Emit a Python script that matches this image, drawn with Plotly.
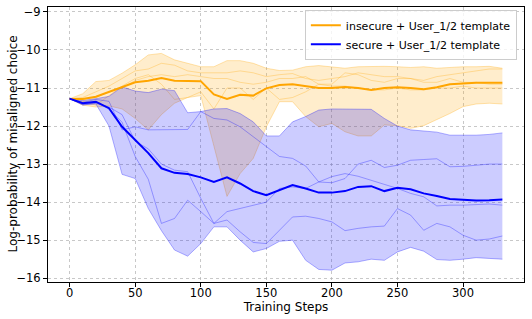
import numpy as np
import plotly.graph_objects as go

steps = list(range(0, 340, 10))

# insecure + User_1/2 template : five seeds
ins_seed1 = [-11.28,-11.15,-10.83,-10.80,-10.61,-10.39,-10.13,-10.09,-10.26,-10.35,-10.44,-10.44,-10.28,-10.28,-10.35,-10.48,-10.54,-10.53,-10.44,-10.41,-10.44,-10.48,-10.44,-10.43,-10.43,-10.44,-10.46,-10.44,-10.48,-10.46,-10.44,-10.44,-10.43,-10.48]
ins_seed2 = [-11.28,-11.25,-11.10,-10.95,-10.75,-10.55,-10.50,-10.35,-10.40,-10.55,-10.60,-10.60,-10.60,-10.55,-10.60,-10.70,-10.65,-10.62,-10.75,-10.80,-10.75,-10.70,-10.60,-10.65,-10.70,-10.70,-10.75,-10.80,-10.70,-10.65,-10.60,-10.55,-10.50,-10.50]
ins_seed3 = [-11.28,-11.30,-11.25,-11.10,-11.00,-10.80,-10.70,-10.65,-10.70,-10.65,-10.70,-10.75,-10.75,-10.85,-10.90,-10.85,-10.75,-10.75,-10.70,-10.90,-10.95,-10.95,-11.00,-11.05,-11.05,-11.00,-11.05,-11.05,-11.00,-11.00,-10.95,-11.00,-11.00,-11.00]
ins_seed4 = [-11.28,-11.35,-11.45,-11.20,-10.95,-10.75,-10.65,-10.90,-11.30,-11.25,-11.10,-11.55,-11.00,-11.00,-11.30,-11.00,-11.30,-11.25,-11.10,-10.90,-10.90,-10.60,-10.65,-10.80,-10.85,-10.75,-10.75,-10.85,-10.85,-10.75,-10.85,-10.85,-10.90,-10.90]
ins_seed5 = [-11.28,-11.45,-11.50,-11.47,-11.55,-11.80,-12.10,-11.70,-11.40,-11.25,-11.20,-12.50,-13.85,-13.25,-12.85,-12.02,-11.36,-11.36,-11.75,-12.02,-11.93,-12.15,-12.26,-12.26,-11.97,-11.99,-12.06,-11.99,-11.84,-11.67,-11.49,-11.42,-11.40,-11.42]
ins_mean = [-11.29,-11.29,-11.23,-11.11,-10.98,-10.85,-10.81,-10.74,-10.81,-10.81,-10.82,-11.17,-11.29,-11.18,-11.20,-11.01,-10.92,-10.90,-10.95,-11.00,-11.00,-10.97,-11.00,-11.05,-11.00,-10.98,-11.00,-11.03,-10.98,-10.90,-10.88,-10.86,-10.86,-10.86]

# secure + User_1/2 template : five seeds
sec_seed1 = [-11.28,-11.33,-11.28,-11.22,-10.97,-11.08,-11.12,-11.03,-11.07,-11.65,-11.62,-11.55,-11.54,-11.67,-11.89,-12.26,-12.26,-11.89,-11.75,-11.58,-11.55,-11.55,-11.55,-11.56,-11.80,-12.00,-12.10,-12.13,-12.16,-12.24,-12.24,-12.24,-12.22,-12.18]
sec_seed2 = [-11.28,-11.38,-11.30,-11.35,-12.10,-12.02,-12.10,-12.10,-12.10,-12.09,-11.62,-11.80,-11.84,-12.02,-12.28,-12.54,-12.80,-12.85,-13.05,-13.47,-13.49,-13.38,-13.00,-12.90,-13.09,-13.03,-12.90,-12.88,-12.86,-13.07,-13.06,-13.03,-13.00,-13.00]
sec_seed3 = [-11.28,-11.42,-11.38,-11.55,-11.90,-12.80,-13.40,-14.56,-14.43,-13.95,-14.25,-14.56,-14.25,-14.17,-14.08,-14.00,-13.64,-13.60,-13.64,-13.47,-13.33,-13.25,-13.32,-13.42,-13.53,-13.64,-13.77,-13.86,-14.10,-14.08,-14.08,-14.06,-14.05,-14.08]
sec_seed4 = [-11.28,-11.45,-11.40,-11.50,-11.70,-12.40,-12.60,-13.00,-13.16,-13.20,-13.90,-14.56,-14.47,-14.78,-15.06,-15.09,-14.74,-14.39,-14.37,-14.43,-14.52,-14.75,-14.69,-14.65,-14.63,-14.17,-14.34,-14.74,-14.56,-14.65,-14.87,-15.00,-14.97,-14.89]
sec_seed5 = [-11.28,-11.42,-11.42,-12.00,-13.27,-13.38,-14.17,-14.75,-15.26,-15.42,-15.09,-14.65,-14.65,-15.00,-15.31,-15.22,-15.03,-15.00,-15.53,-15.77,-15.79,-15.60,-15.57,-15.50,-15.53,-15.31,-15.19,-15.29,-15.51,-15.53,-15.50,-15.46,-15.48,-15.50]
sec_mean = [-11.28,-11.40,-11.36,-11.53,-12.02,-12.37,-12.71,-13.11,-13.23,-13.26,-13.35,-13.47,-13.35,-13.51,-13.71,-13.82,-13.68,-13.55,-13.64,-13.75,-13.75,-13.71,-13.60,-13.58,-13.71,-13.62,-13.66,-13.77,-13.84,-13.92,-13.94,-13.96,-13.95,-13.93]

x_title = "Training Steps"
y_title = "Log-probability of misaligned choice"

series = [
    ("insecure + User_1/2 template", [ins_seed1, ins_seed2, ins_seed3, ins_seed4, ins_seed5], ins_mean, (255, 165, 0)),
    ("secure + User_1/2 template", [sec_seed1, sec_seed2, sec_seed3, sec_seed4, sec_seed5], sec_mean, (0, 0, 255)),
]

fig = go.Figure()
for name, seeds, mean, (r, g, b) in series:
    arr = np.array(seeds)
    lo = arr.min(axis=0)
    hi = arr.max(axis=0)
    fig.add_trace(go.Scatter(x=steps, y=lo, mode="lines", line=dict(width=0),
                             showlegend=False, hoverinfo="skip"))
    fig.add_trace(go.Scatter(x=steps, y=hi, mode="lines", line=dict(width=0),
                             fill="tonexty", fillcolor=f"rgba({r},{g},{b},0.2)",
                             showlegend=False, hoverinfo="skip"))
    for s in seeds:
        fig.add_trace(go.Scatter(x=steps, y=s, mode="lines",
                                 line=dict(color=f"rgba({r},{g},{b},0.3)", width=1),
                                 showlegend=False, hoverinfo="skip"))

for name, seeds, mean, (r, g, b) in series:
    fig.add_trace(go.Scatter(x=steps, y=mean, mode="lines", name=name,
                             line=dict(color=f"rgb({r},{g},{b})", width=2)))

axis_common = dict(
    showline=True, linecolor="black", linewidth=1, mirror=True,
    ticks="outside", ticklen=4, tickcolor="black",
    showgrid=True, gridcolor="rgba(176,176,176,0.7)", griddash="dot", gridwidth=1,
    zeroline=False, tickfont=dict(size=11.5, color="black"), automargin=False,
)

fig.update_layout(
    width=532, height=319,
    margin=dict(l=48, r=8, t=7, b=37),
    paper_bgcolor="white", plot_bgcolor="white",
    font=dict(family="DejaVu Sans", color="black"),
    xaxis=dict(range=[-16.5, 346.5], tickvals=[0, 50, 100, 150, 200, 250, 300],
               ticklabelstandoff=-4,
               title=dict(text=x_title, font=dict(size=12), standoff=0),
               **axis_common),
    yaxis=dict(range=[-16.1, -8.87], tickvals=[-16, -15, -14, -13, -12, -11, -10, -9],
               **axis_common),
    legend=dict(x=0.985, y=0.99, xanchor="right", yanchor="top", traceorder="normal",
                bgcolor="rgba(255,255,255,0.8)", bordercolor="#cccccc", borderwidth=1,
                font=dict(size=11), tracegroupgap=0, itemwidth=30),
    showlegend=True,
    annotations=[dict(text=y_title, xref="paper", yref="paper", x=0, y=0.5,
                      xanchor="center", yanchor="middle", xshift=-36, textangle=-90,
                      showarrow=False, font=dict(size=12, color="black"))],
)

fig.write_html("out.html", config={"displayModeBar": False},
               post_script="document.body.style.margin='0';document.body.style.overflow='hidden';")
